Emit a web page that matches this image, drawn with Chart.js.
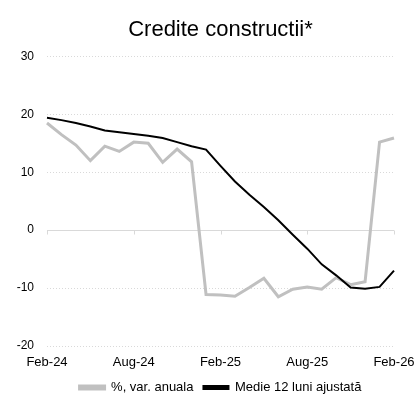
<!DOCTYPE html>
<html>
<head>
<meta charset="utf-8">
<script src="https://cdn.jsdelivr.net/npm/chart.js@4/dist/chart.umd.min.js"></script>
<style>
    html, body { margin: 0; padding: 0; background: #fff; }
    #wrap { width: 416px; height: 401px; }
</style>
</head>
<body>
<div id="wrap"><canvas id="grafic"></canvas></div>
<script>
'use strict';

// Luni (Feb-24 ... Feb-26)
const luni = ['Feb-24', 'Mar-24', 'Apr-24', 'May-24', 'Jun-24', 'Jul-24', 'Aug-24', 'Sep-24', 'Oct-24',
    'Nov-24', 'Dec-24', 'Jan-25', 'Feb-25', 'Mar-25', 'Apr-25', 'May-25', 'Jun-25', 'Jul-25', 'Aug-25',
    'Sep-25', 'Oct-25', 'Nov-25', 'Dec-25', 'Jan-26', 'Feb-26'];

// %, var. anuala
const varAnuala = [18.5, 16.5, 14.7, 12.0, 14.5, 13.6, 15.2, 15.0, 11.7, 14.0, 11.8, -11.1, -11.2,
    -11.4, -9.9, -8.3, -11.5, -10.2, -9.8, -10.2, -8.2, -9.4, -8.9, 15.2, 15.9];

// Medie 12 luni ajustata
const medie12 = [19.4, 19.0, 18.5, 17.9, 17.2, 16.9, 16.6, 16.3, 15.9, 15.2, 14.5, 13.9, 11.1,
    8.4, 6.1, 4.0, 1.7, -0.8, -3.2, -5.9, -7.8, -9.9, -10.1, -9.8, -7.0];

// etichete afisate pe axa X
const eticheteX = ['Feb-24', 'Aug-24', 'Feb-25', 'Aug-25', 'Feb-26'];

const font = 'Liberation Sans, Arial, sans-serif';

/* linia de zero si marcajele de pe ea */
const liniaZero = {
    id: 'liniaZero',
    beforeDatasetsDraw(chart) {
        const ctx = chart.ctx;
        const area = chart.chartArea;
        const y = Math.round(chart.scales.y.getPixelForValue(0)) + 0.5;
        ctx.save();
        ctx.strokeStyle = '#d9d9d9';
        ctx.lineWidth = 1;
        ctx.beginPath();
        ctx.moveTo(area.left, y);
        ctx.lineTo(area.right, y);
        luni.forEach((l, i) => {
            if (eticheteX.includes(l)) {
                const x = Math.round(chart.scales.x.getPixelForValue(i)) + 0.5;
                ctx.moveTo(x, y);
                ctx.lineTo(x, y + 4);
            }
        });
        ctx.stroke();
        ctx.restore();
    },
};

const ctx = document.getElementById('grafic').getContext('2d');
new Chart(ctx, {
    type: 'line',
    data: {
        labels: luni,
        datasets: [
            {
                label: '%, var. anuala',
                data: varAnuala,
                borderColor: '#c0c0c0',
                backgroundColor: '#c0c0c0',
                borderWidth: 3,
                pointRadius: 0,
                tension: 0,
                order: 1,
            },
            {
                label: 'Medie 12 luni ajustată',
                data: medie12,
                borderColor: '#000000',
                backgroundColor: '#000000',
                borderWidth: 2,
                pointRadius: 0,
                tension: 0,
                order: 0,
            },
        ],
    },
    options: {
        responsive: true,
        maintainAspectRatio: false,
        animation: false,
        layout: {
            padding: { left: 0, right: 22, top: 0, bottom: -3 },
        },
        plugins: {
            title: {
                display: true,
                text: 'Credite constructii*',
                color: '#000',
                fullSize: false,
                font: { family: font, size: 22, weight: 'normal' },
                padding: { top: 17, bottom: 13 },
            },
            legend: {
                position: 'bottom',
                fullSize: false,
                labels: {
                    color: '#000',
                    font: { family: font, size: 13 },
                    boxWidth: 25,
                    boxHeight: 3,
                    padding: 10,
                    sort: (a, b) => a.datasetIndex - b.datasetIndex,
                },
            },
            tooltip: { enabled: false },
        },
        scales: {
            x: {
                offset: false,
                grid: { display: false, drawTicks: false },
                border: { display: false },
                ticks: {
                    autoSkip: false,
                    maxRotation: 0,
                    padding: 9,
                    color: '#000',
                    font: { family: font, size: 13 },
                    callback: function (val, i) {
                        const l = luni[i];
                        return eticheteX.includes(l) ? l : '';
                    },
                },
                afterFit: function (scale) {
                    scale.height = 25;
                    scale.paddingLeft = 0;
                    scale.paddingRight = 0;
                },
            },
            y: {
                min: -20,
                max: 30,
                ticks: {
                    stepSize: 10,
                    padding: 13,
                    color: '#000',
                    font: { family: font, size: 12 },
                },
                grid: {
                    drawTicks: false,
                    color: (c) => (c.tick && c.tick.value === 0 ? 'rgba(0,0,0,0)' : '#d9d9d9'),
                    lineWidth: 1,
                },
                border: { display: false, dash: [1, 2] },
                afterFit: function (scale) {
                    scale.width = 47;
                },
            },
        },
    },
    plugins: [liniaZero],
});
</script>
</body>
</html>
